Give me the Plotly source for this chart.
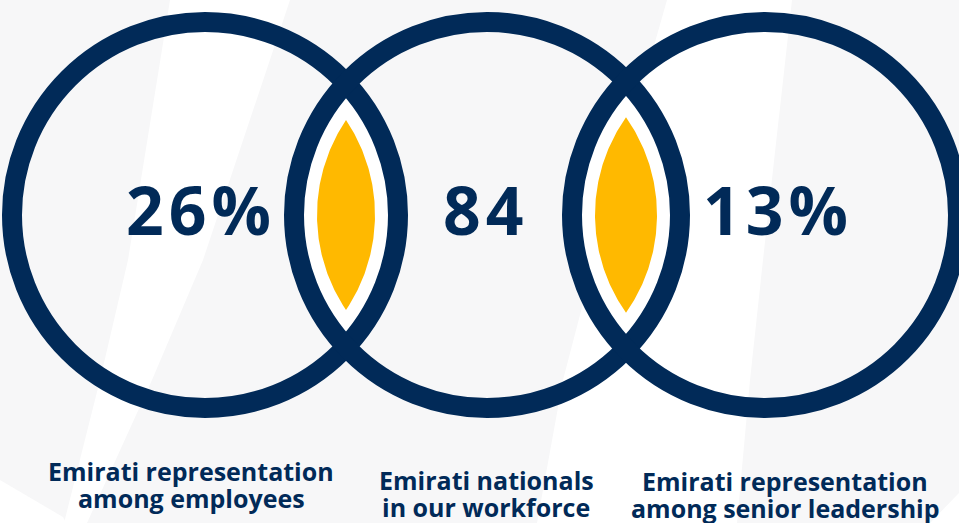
import numpy as np
import plotly.graph_objects as go

# ---- data ----
values = [26, 84, 13]
value_suffix = ["%", "", "%"]
label_line1 = ["Emirati representation", "Emirati nationals", "Emirati representation"]
label_line2 = ["among employees", "in our workforce", "among senior leadership"]

# ---- layout constants (pixels; axes are 1:1 with the page) ----
W, H = 959, 523
NAVY = "#012A58"
YELLOW = "#FFB900"
BG = "#F7F7F8"

centers_x = [205, 487, 765]
center_y = 215
ring_r = 193        # radius of the ring centre-line
ring_w = 20         # ring stroke width
gap_r = 185         # white fill inside overlapping rings
lens_r = 170        # yellow lens radius

value_pos = [(201, 209), (485, 209), (778, 209)]
label_pos = [(191, 471, 498), (486, 480, 507), (785, 481, 508)]

fig = go.Figure()


def lens_points(xa, xb, cy, r, n=120):
    """Polygon of the intersection of two equal circles centred on (xa,cy), (xb,cy)."""
    half = (xb - xa) / 2
    h = np.sqrt(r ** 2 - half ** 2)
    ang = np.arcsin(h / r)
    # right arc belongs to the left circle, left arc to the right circle
    t1 = np.linspace(-ang, ang, n)
    x1 = xa + r * np.cos(t1)
    y1 = cy + r * np.sin(t1)
    t2 = np.linspace(np.pi - ang, np.pi + ang, n)
    x2 = xb + r * np.cos(t2)
    y2 = cy - r * np.sin(t2)
    return np.concatenate([x1, x2, x1[:1]]), np.concatenate([y1, y2, y1[:1]])


# background light stripes
stripes = [
    [(170, 0), (290, 0), (203, 260), (152, 380), (87, 523), (64, 523), (100, 380), (128, 260)],
    [(667, 0), (792, 0), (763, 260), (750, 380), (737, 523), (537, 523), (563, 380), (610, 200)],
    [(0, 480), (63, 517), (66, 523), (0, 523)],
    [(930, 523), (959, 493), (959, 523)],
]
shapes = []
for poly in stripes:
    path = "M " + " L ".join(f"{x},{y}" for x, y in poly) + " Z"
    shapes.append(dict(type="path", path=path, fillcolor="white", line=dict(width=0), layer="below"))

# overlaps: white gap then yellow lens
for i in range(len(centers_x) - 1):
    xa, xb = centers_x[i], centers_x[i + 1]
    gx, gy = lens_points(xa, xb, center_y, gap_r)
    fig.add_trace(go.Scatter(x=gx, y=gy, mode="lines", fill="toself", fillcolor="white",
                             line=dict(width=0), hoverinfo="skip", showlegend=False))
    lx, ly = lens_points(xa, xb, center_y, lens_r)
    fig.add_trace(go.Scatter(x=lx, y=ly, mode="lines", fill="toself", fillcolor=YELLOW,
                             line=dict(width=0), hoverinfo="skip", showlegend=False))

# rings
for cx in centers_x:
    shapes.append(dict(type="circle", x0=cx - ring_r, x1=cx + ring_r,
                       y0=center_y - ring_r, y1=center_y + ring_r,
                       line=dict(color=NAVY, width=ring_w), fillcolor="rgba(0,0,0,0)",
                       layer="above"))

annotations = []
for v, suf, (x, y) in zip(values, value_suffix, value_pos):
    annotations.append(dict(
        x=x, y=y, xref="x", yref="y", showarrow=False,
        text=f'<span style="letter-spacing:5px">{v}{suf}</span>',
        font=dict(family="Open Sans", size=66, color=NAVY, weight="bold"),
        xanchor="center", yanchor="middle"))

for l1, l2, (x, y1, y2) in zip(label_line1, label_line2, label_pos):
    for txt, yy in ((l1, y1), (l2, y2)):
        annotations.append(dict(
            x=x, y=yy, xref="x", yref="y", showarrow=False, text=txt,
            font=dict(family="Open Sans", size=25, color=NAVY, weight="bold"),
            xanchor="center", yanchor="middle"))

fig.update_layout(
    width=W, height=H, margin=dict(l=0, r=0, t=0, b=0),
    paper_bgcolor=BG, plot_bgcolor=BG,
    xaxis=dict(range=[0, W], visible=False, fixedrange=True),
    yaxis=dict(range=[H, 0], visible=False, fixedrange=True),
    shapes=shapes, annotations=annotations, showlegend=False,
)

fig.write_html("out.html", config={"displayModeBar": False})
